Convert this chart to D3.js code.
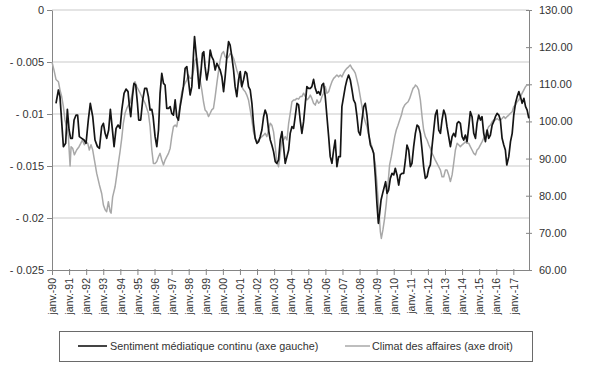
<!DOCTYPE html>
<html><head><meta charset="utf-8">
<script src="https://cdn.jsdelivr.net/npm/d3@7"></script>
<style>body{margin:0;background:#fff;} svg{display:block;font-family:"Liberation Sans",Arial,sans-serif;}</style>
</head><body><svg id="c" width="600" height="365"></svg>
<script>
// months since janv. 1990
const sentimentMonth = [2.8,4.5,5.6,8.0,9.6,10.8,12.0,13.1,14.3,15.5,16.9,18.0,19.2,20.9,22.5,23.9,25.5,26.9,28.6,30.2,31.9,33.3,34.9,36.1,37.3,38.4,39.8,41.0,42.2,43.6,45.0,46.4,47.8,49.0,50.6,52.0,53.4,54.4,55.3,56.5,57.6,58.8,60.0,60.9,62.3,63.7,65.1,66.5,67.7,68.9,70.1,71.0,72.4,73.6,74.8,75.9,77.1,78.3,79.4,80.6,81.8,83.0,84.1,85.3,86.5,87.6,88.8,90.0,91.2,92.3,93.5,94.7,95.8,97.0,98.2,99.4,100.1,101.2,102.2,103.3,104.5,105.7,106.6,107.5,108.7,109.9,111.1,112.2,113.4,114.6,115.8,116.9,118.1,119.3,120.5,121.6,122.8,124.0,125.1,126.3,127.5,128.6,129.8,131.0,132.2,133.3,134.5,135.7,136.8,138.0,139.2,140.4,141.5,142.7,143.9,145.1,146.2,147.4,148.6,149.7,150.9,152.1,153.3,154.4,155.6,156.8,157.9,159.1,160.3,161.5,162.6,163.8,165.0,166.2,167.3,168.5,169.7,170.8,172.0,173.2,174.3,175.5,176.7,177.9,179.0,180.2,181.4,182.5,183.7,184.9,186.1,187.2,188.4,189.6,190.7,191.9,193.1,194.3,195.4,196.6,197.8,198.9,200.1,201.3,202.5,203.6,204.8,206.0,207.1,208.3,209.5,210.7,211.8,213.0,214.2,215.3,216.5,217.7,218.9,220.0,221.2,222.4,223.6,224.7,225.9,227.1,228.2,229.2,230.1,231.1,232.2,233.4,234.3,235.3,236.4,237.6,238.8,240.0,241.1,242.3,243.5,244.6,245.8,247.0,248.2,249.3,250.5,251.7,252.8,254.0,255.2,256.4,257.5,258.7,259.9,261.0,262.2,263.4,264.6,265.7,266.9,268.1,269.2,270.4,271.6,272.8,273.9,275.1,276.3,277.4,278.6,279.8,281.0,282.1,283.3,284.5,285.6,286.8,288.0,289.2,290.3,291.5,292.7,293.8,295.0,296.2,297.4,298.5,299.7,300.9,302.0,303.2,304.4,305.6,306.7,307.9,309.1,310.2,311.4,312.6,313.8,314.9,316.1,317.3,318.4,319.4,320.8,322.0,323.2,324.3,325.5,326.7,327.9,329.0,330.2,331.4,332.6,333.7,334.9];
const sentimentValue = [-0.00897,-0.00769,-0.00833,-0.01314,-0.01282,-0.00955,-0.01154,-0.01234,-0.01234,-0.01058,-0.0101,-0.0101,-0.01218,-0.01234,-0.0125,-0.01282,-0.01058,-0.00897,-0.01026,-0.0125,-0.01314,-0.0133,-0.01122,-0.0109,-0.01186,-0.01234,-0.01154,-0.00955,-0.01122,-0.01314,-0.01138,-0.01106,-0.01138,-0.00962,-0.00801,-0.0076,-0.00785,-0.00929,-0.01026,-0.00833,-0.00705,-0.00721,-0.00897,-0.01058,-0.01058,-0.00865,-0.00753,-0.00753,-0.00833,-0.00962,-0.00955,-0.01026,-0.01218,-0.01314,-0.01154,-0.00801,-0.00609,-0.00705,-0.00721,-0.00946,-0.00946,-0.00929,-0.00994,-0.0101,-0.00865,-0.01026,-0.01058,-0.00929,-0.00833,-0.00737,-0.00561,-0.00545,-0.00673,-0.00817,-0.00737,-0.00417,-0.00256,-0.00417,-0.00577,-0.00753,-0.00609,-0.00417,-0.00401,-0.00545,-0.00673,-0.00577,-0.00385,-0.00449,-0.00481,-0.00577,-0.00513,-0.00545,-0.00577,-0.00641,-0.00785,-0.00641,-0.00449,-0.00304,-0.00337,-0.00449,-0.00577,-0.00737,-0.00833,-0.00673,-0.00593,-0.00737,-0.00673,-0.00593,-0.00609,-0.00737,-0.00769,-0.00897,-0.0109,-0.01234,-0.01282,-0.01266,-0.01218,-0.01154,-0.01026,-0.00962,-0.0101,-0.01154,-0.0125,-0.01298,-0.01362,-0.01458,-0.01474,-0.01442,-0.0125,-0.0117,-0.01314,-0.01474,-0.0141,-0.01346,-0.01186,-0.01122,-0.01138,-0.01026,-0.00897,-0.00913,-0.01058,-0.01186,-0.01074,-0.00897,-0.00737,-0.00753,-0.00753,-0.00737,-0.00667,-0.00753,-0.00801,-0.00785,-0.00817,-0.00721,-0.00705,-0.00833,-0.01026,-0.01218,-0.0141,-0.01474,-0.01346,-0.0125,-0.01506,-0.0141,-0.0141,-0.00929,-0.00833,-0.00737,-0.00673,-0.00625,-0.00673,-0.00769,-0.00865,-0.00897,-0.01026,-0.0117,-0.01202,-0.01058,-0.00929,-0.00897,-0.0101,-0.01186,-0.01298,-0.0133,-0.01378,-0.01603,-0.01859,-0.02051,-0.01955,-0.01827,-0.01763,-0.01699,-0.01651,-0.01763,-0.01731,-0.01619,-0.01571,-0.01586,-0.01522,-0.01586,-0.01683,-0.01586,-0.01571,-0.01571,-0.01442,-0.01298,-0.01346,-0.01506,-0.01474,-0.01314,-0.01186,-0.01106,-0.01122,-0.01186,-0.01346,-0.01506,-0.01619,-0.01603,-0.01522,-0.0149,-0.01314,-0.01154,-0.0101,-0.00962,-0.01154,-0.01186,-0.01058,-0.00962,-0.0101,-0.01122,-0.01218,-0.01314,-0.01218,-0.01186,-0.01218,-0.0109,-0.01074,-0.0109,-0.01218,-0.0125,-0.01202,-0.01266,-0.01122,-0.00978,-0.01026,-0.01186,-0.01234,-0.0109,-0.0101,-0.01058,-0.01026,-0.01186,-0.01266,-0.01154,-0.01234,-0.01202,-0.01106,-0.01074,-0.01026,-0.00994,-0.0101,-0.01058,-0.01234,-0.01298,-0.01346,-0.0149,-0.0141,-0.01266,-0.01186,-0.0101,-0.00897,-0.00833,-0.00785,-0.00833,-0.00897,-0.00849,-0.00929,-0.00962,-0.01042];

const climatMonth = [0,1.4,2.8,4.5,5.6,6.8,8.0,9.1,10.3,11.5,12.7,13.4,14.5,15.7,17.3,19.0,20.2,21.3,22.7,23.9,25.1,26.2,27.4,28.6,29.8,31.4,33.3,34.9,36.1,37.3,38.4,39.6,40.8,41.5,42.6,44.3,45.5,46.6,47.8,49.0,50.1,51.3,52.5,53.7,54.8,56.0,57.2,58.3,59.5,60.7,61.9,63.0,64.2,65.4,66.6,67.7,68.9,70.1,71.2,72.4,73.6,74.8,75.9,77.1,78.3,79.4,80.6,81.8,83.0,84.1,85.3,86.5,87.6,88.8,90.0,91.2,92.3,93.5,94.7,95.8,97.0,98.2,99.4,100.5,101.7,102.9,104.0,105.2,106.4,107.5,108.7,109.9,111.1,112.2,113.4,114.6,115.8,116.9,118.1,119.3,120.5,121.6,122.8,124.0,125.1,126.3,127.5,128.6,129.8,131.0,132.2,133.3,134.5,135.7,136.8,138.0,139.2,140.4,141.5,142.7,143.9,145.1,146.2,147.4,148.6,149.7,150.9,152.1,153.3,154.4,155.6,156.8,157.9,159.1,160.3,161.5,162.6,163.8,165.0,166.2,167.3,168.5,169.7,170.8,172.0,173.2,174.3,175.5,176.7,177.9,179.0,180.2,181.4,182.5,183.7,184.9,186.1,187.2,188.4,189.6,190.7,191.9,193.1,194.3,195.4,196.6,197.8,198.9,200.1,201.3,202.5,203.6,204.8,206.0,207.1,208.3,209.5,210.7,211.8,213.0,214.2,215.3,216.5,217.7,218.9,220.0,221.2,222.4,223.6,224.7,225.9,227.1,228.2,229.4,230.6,231.3,232.4,233.6,234.8,236.0,237.1,238.3,239.5,240.7,241.8,243.0,244.2,245.4,246.5,247.7,248.9,250.1,251.2,252.4,253.6,254.8,255.2,256.4,257.5,258.7,259.9,261.0,262.2,263.4,264.6,265.7,266.9,268.1,269.2,270.4,271.6,272.8,273.9,275.1,276.3,277.4,278.6,279.8,281.0,282.1,283.3,284.5,285.6,286.8,288.0,289.2,290.3,291.5,292.7,293.8,295.0,296.2,297.4,298.5,299.7,300.9,302.0,303.2,304.4,305.6,306.7,307.9,309.1,310.2,311.4,312.6,313.8,314.9,316.1,317.3,318.4,319.6,320.8,322.0,323.2,324.3,325.5,326.7,327.9,329.0,330.2,331.4,332.6,333.7,334.9];
const climatValue = [116.0,113.8,111.3,110.7,108.5,106.7,104.0,100.4,98.6,95.9,88.0,93.2,92.8,91.0,92.3,93.2,94.1,95.0,93.7,94.5,94.1,92.3,93.7,92.3,89.6,86.0,82.9,80.6,77.5,76.2,75.7,78.4,75.7,75.3,79.7,82.4,85.6,88.7,91.9,95.5,99.5,102.2,103.5,104.4,104.9,106.7,109.8,110.7,109.4,108.5,107.6,106.7,105.8,104.9,103.5,102.2,98.6,92.3,88.7,88.7,89.2,90.5,91.4,89.6,88.3,89.6,90.5,91.4,92.8,95.9,98.6,99.0,98.6,101.3,104.9,108.0,109.4,110.3,111.2,112.5,111.6,111.6,113.8,116.5,117.0,113.8,111.2,108.5,105.3,103.1,102.6,101.3,102.2,103.1,103.5,106.7,110.3,113.4,116.5,118.3,118.8,117.4,117.0,117.4,118.3,117.9,117.0,115.6,113.8,112.5,110.7,109.4,108.5,108.0,107.1,105.8,103.1,100.4,97.2,95.5,94.5,95.0,95.5,95.9,96.3,96.8,95.9,97.7,99.5,99.0,97.2,93.2,89.2,87.8,91.4,95.0,95.0,95.9,95.0,99.5,102.2,105.3,105.8,105.8,106.2,106.0,106.7,106.7,107.6,106.7,105.8,106.2,107.1,106.2,104.9,104.4,105.8,104.9,105.3,106.7,107.6,109.4,107.6,108.0,109.4,110.7,111.6,112.0,112.5,112.0,112.5,112.0,113.0,113.8,114.3,114.7,115.2,114.3,113.8,113.0,111.2,109.4,106.7,104.0,101.3,99.9,98.6,96.3,94.5,93.2,91.4,88.3,83.3,77.0,70.3,68.5,70.8,73.9,78.0,83.3,88.3,90.5,93.2,95.9,97.7,99.0,100.4,101.7,103.5,104.4,104.9,105.3,106.2,107.6,108.9,109.4,109.8,109.4,108.5,105.8,101.3,97.7,95.9,95.0,93.7,92.8,91.4,90.5,89.6,88.7,87.8,86.9,85.1,85.1,86.9,86.9,85.6,83.8,85.6,88.7,92.3,94.1,93.7,93.2,93.7,94.1,94.5,94.1,94.1,93.2,92.3,91.4,91.0,92.3,92.8,93.7,94.5,95.5,96.3,97.7,98.6,99.0,99.9,100.4,100.4,100.8,100.4,100.4,100.8,101.3,100.8,101.3,101.7,102.2,102.6,104.0,104.4,105.3,105.8,106.7,107.6,108.5,109.4,109.8,109.8];

const leftTicks = [0, -0.005, -0.01, -0.015, -0.02, -0.025];
const leftTickLabels = ["0", "- 0.005", "- 0.01", "- 0.015", "- 0.02", "- 0.025"];
const rightTicks = [130, 120, 110, 100, 90, 80, 70, 60];
const rightTickLabels = ["130.00", "120.00", "110.00", "100.00", "90.00", "80.00", "70.00", "60.00"];
const yearTicks = [0,12,24,36,48,60,72,84,96,108,120,132,144,156,168,180,192,204,216,228,240,252,264,276,288,300,312,324];
const yearTickLabels = ["janv.-90","janv.-91","janv.-92","janv.-93","janv.-94","janv.-95","janv.-96","janv.-97","janv.-98","janv.-99","janv.-00","janv.-01","janv.-02","janv.-03","janv.-04","janv.-05","janv.-06","janv.-07","janv.-08","janv.-09","janv.-10","janv.-11","janv.-12","janv.-13","janv.-14","janv.-15","janv.-16","janv.-17"];
const seriesNames = ["Sentiment médiatique continu (axe gauche)", "Climat des affaires (axe droit)"];

const svg = d3.select("#c");
const L = 52, R = 529, T = 10, B = 270;
const x = d3.scaleLinear().domain([0, 335]).range([L, R]);
const yL = d3.scaleLinear().domain([-0.025, 0]).range([B, T]);
const yR = d3.scaleLinear().domain([60, 130]).range([B, T]);
const axisCol = "#858585", textCol = "#333";

// gridlines
svg.append("g").selectAll("line").data(leftTicks.slice(0, 5)).join("line")
  .attr("x1", L).attr("x2", R).attr("y1", d => yL(d)).attr("y2", d => yL(d))
  .attr("stroke", "#c9c9c9").attr("stroke-width", 1);

// left axis
const gl = svg.append("g").attr("transform", `translate(${L},0)`)
  .call(d3.axisLeft(yL).tickValues(leftTicks).tickFormat((d, i) => leftTickLabels[i]).tickSize(5).tickSizeOuter(0));
// right axis
const gr = svg.append("g").attr("transform", `translate(${R},0)`)
  .call(d3.axisRight(yR).tickValues(rightTicks).tickFormat((d, i) => rightTickLabels[i]).tickSize(3).tickSizeOuter(0));
gr.selectAll(".tick line").attr("x1", -3).attr("x2", 3);
gr.selectAll(".tick text").attr("x", 10);
// bottom axis
const gb = svg.append("g").attr("transform", `translate(0,${B})`)
  .call(d3.axisBottom(x).tickValues(yearTicks).tickFormat((d, i) => yearTickLabels[i]).tickSize(5).tickSizeOuter(0));
gb.selectAll(".tick line").attr("y1", -1).attr("y2", 5);

[gl, gr, gb].forEach(g => {
  g.select(".domain").attr("stroke", axisCol);
  g.selectAll(".tick line").attr("stroke", axisCol);
  g.selectAll(".tick text").attr("fill", textCol).style("font-size", "11px")
    .style("font-family", '"Liberation Sans", Arial, sans-serif');
});
gl.selectAll(".tick text").attr("x", -8);
gb.selectAll(".tick text")
  .attr("transform", "translate(0,8) rotate(-90)")
  .attr("x", 0).attr("y", 0).attr("dy", "0.35em")
  .attr("text-anchor", "end").style("font-size", "10.5px");

// lines
const climat = climatMonth.map((m, i) => [m, climatValue[i]]);
const sent = sentimentMonth.map((m, i) => [m, sentimentValue[i]]);
svg.append("path").datum(climat)
  .attr("d", d3.line().x(d => x(d[0])).y(d => yR(d[1])))
  .attr("fill", "none").attr("stroke", "#a8a8a8").attr("stroke-width", 1.5).attr("stroke-linejoin", "round");
svg.append("path").datum(sent)
  .attr("d", d3.line().x(d => x(d[0])).y(d => yL(d[1])))
  .attr("fill", "none").attr("stroke", "#151515").attr("stroke-width", 1.7).attr("stroke-linejoin", "round");

// legend
const lg = svg.append("g");
lg.append("rect").attr("x", 59.5).attr("y", 331.5).attr("width", 473).attr("height", 30)
  .attr("fill", "none").attr("stroke", "#6a6a6a").attr("stroke-width", 1);
const items = [
  {x1: 78, x2: 107, tx: 110, col: "#151515", w: 1.6},
  {x1: 345, x2: 370, tx: 372, col: "#a8a8a8", w: 1.5}
];
items.forEach((it, i) => {
  lg.append("line").attr("x1", it.x1).attr("x2", it.x2).attr("y1", 346).attr("y2", 346)
    .attr("stroke", it.col).attr("stroke-width", it.w);
  lg.append("text").attr("x", it.tx).attr("y", 346).attr("dy", "0.35em")
    .attr("fill", textCol).style("font-size", "10.8px").text(seriesNames[i]);
});
</script></body></html>
